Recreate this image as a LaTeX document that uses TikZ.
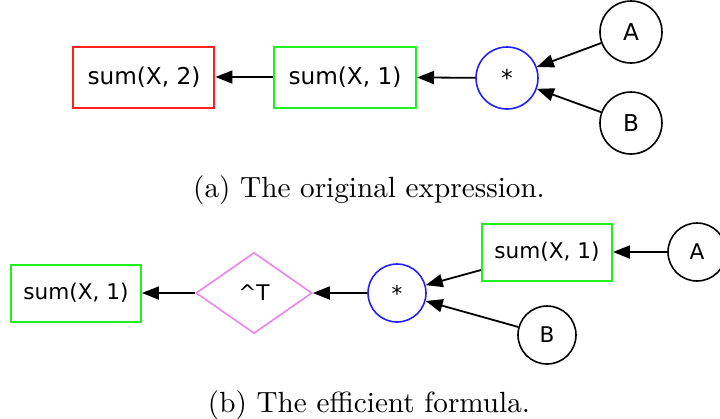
\documentclass[tikz,border=0pt]{standalone}
\usepackage{fontspec}
\usepackage{xcolor}
\usepackage{tikz}
\usetikzlibrary{arrows.meta,shapes.geometric}
\newfontfamily\gvfont{DejaVu Sans}
\newfontfamily\captfont{lmroman10-regular.otf}
\definecolor{redEdge}{HTML}{FF2020}
\definecolor{greenEdge}{HTML}{20F020}
\definecolor{blueEdge}{HTML}{2020FF}
\definecolor{violetEdge}{HTML}{EE82EE}
\tikzset{
  exprbox/.style={draw=#1, line width=1pt, inner sep=0pt, align=center},
  opcirc/.style={draw=#1, circle, line width=0.8pt, inner sep=0pt},
  opdiam/.style={draw=#1, diamond, line width=0.8pt, inner sep=0pt},
  a/.style={-{Triangle[length=8.5pt,width=6.5pt]}, line width=0.9pt},
  capt/.style={font=\captfont\fontsize{14.6}{18}\selectfont, inner sep=0pt},
}
\begin{document}
\begin{tikzpicture}[x=0.5pt, y=-0.5pt]
  \useasboundingbox (0,0) rectangle (720,419);
  % (a) the original expression
  \begin{scope}[every node/.append style={font=\gvfont\fontsize{11.6}{13}\selectfont}]
  \node[exprbox=redEdge, minimum width=70.5pt, minimum height=30.5pt] (sumTwo) at (144,77) {sum(X, 2)};
  \node[exprbox=greenEdge, minimum width=71pt, minimum height=30.5pt] (sumOne) at (345,77) {sum(X, 1)};
  \node[opcirc=blueEdge, minimum size=31pt] (mulA) at (507,78) {*};
  \node[opcirc=black, minimum size=31pt] (inA) at (631,32) {A};
  \node[opcirc=black, minimum size=31pt] (inB) at (631,123) {B};
  \end{scope}
  \draw[a] (inA) -- (mulA);
  \draw[a] (inB) -- (mulA);
  \draw[a] (mulA) -- (sumOne);
  \draw[a] (sumOne) -- (sumTwo);
  \node[capt] (captA) at (369,190) {(a) The original expression.};
  % (b) the efficient formula
  \begin{scope}[every node/.append style={font=\gvfont\fontsize{10.8}{12}\selectfont}]
  \node[exprbox=greenEdge, minimum width=65pt, minimum height=28.5pt] (resSum) at (76,293) {sum(X, 1)};
  \node[opdiam=violetEdge, minimum width=58pt, minimum height=40.5pt] (transp) at (254,293) {\textasciicircum T};
  \node[opcirc=blueEdge, minimum size=29pt] (mulB) at (397,293) {*};
  \node[exprbox=greenEdge, minimum width=65pt, minimum height=28.5pt] (sumA) at (547,252) {sum(X, 1)};
  \node[opcirc=black, minimum size=29pt] (inAb) at (697,252) {A};
  \node[opcirc=black, minimum size=29pt] (inBb) at (547,335) {B};
  \end{scope}
  \draw[a] (inAb) -- (sumA);
  \draw[a] (sumA) -- (mulB);
  \draw[a] (inBb) -- (mulB);
  \draw[a] (mulB) -- (transp);
  \draw[a] (transp) -- (resSum);
  \node[capt] (captB) at (369,405) {(b) The efficient formula.};
\end{tikzpicture}
\end{document}
